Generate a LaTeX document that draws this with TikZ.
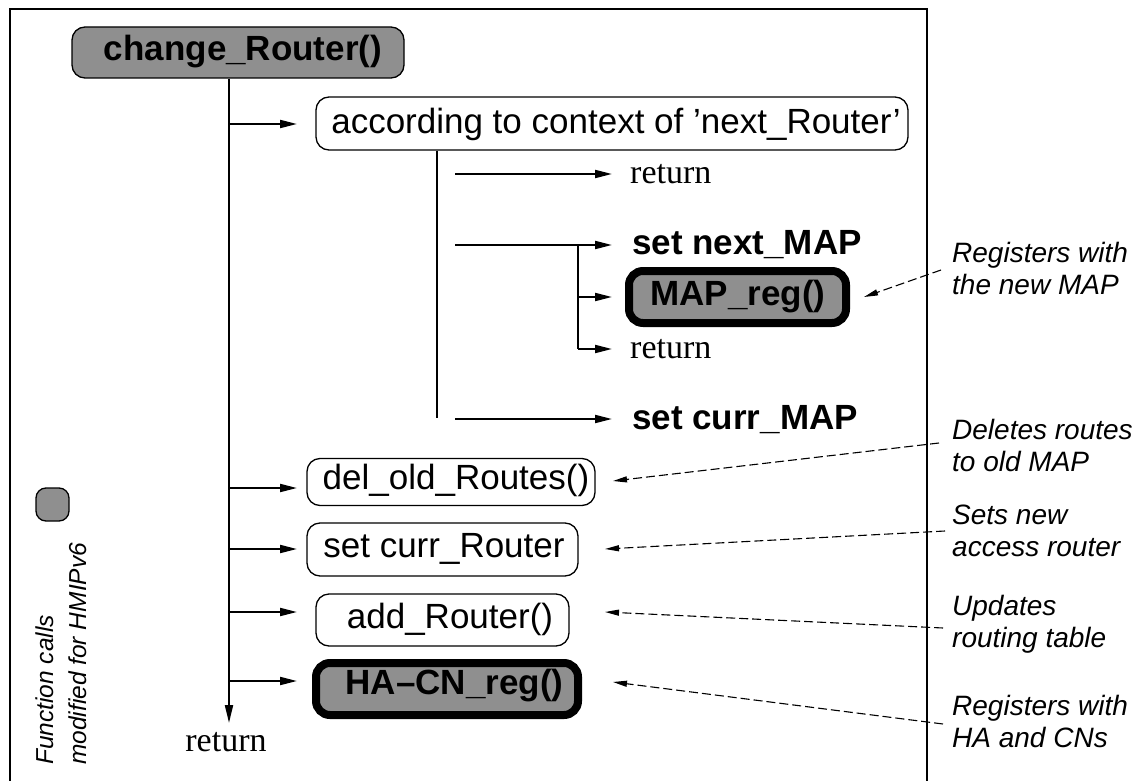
\documentclass[tikz,border=0pt]{standalone}
\usepackage{fontspec}
\setmainfont{Liberation Serif}
\setsansfont{Liberation Sans}
\usetikzlibrary{arrows.meta}
\definecolor{fn}{HTML}{8F8F8F}
\begin{document}
\begin{tikzpicture}[x=1pt,y=-1pt,
  line/.style={line width=2pt},
  arr/.style={line width=2pt,-{Triangle[length=17pt,width=8pt]}},
  note/.style={line width=1.1pt,dash pattern=on 9pt off 4pt,-{Triangle[length=14pt,width=6pt]}},
  box/.style={draw,line width=1.3pt,rounded corners=13pt,inner sep=0pt},
  thickbox/.style={draw,line width=8pt,rounded corners=14pt,fill=fn,inner sep=0pt},
  lbl/.style={font=\sffamily\fontsize{35}{40}\selectfont,inner sep=0pt},
  blbl/.style={font=\sffamily\bfseries\fontsize{35}{40}\selectfont,inner sep=0pt},
  ret/.style={font=\rmfamily\fontsize{34}{40}\selectfont,inner sep=0pt},
  ann/.style={font=\sffamily\itshape\fontsize{28}{32}\selectfont,align=left,inner sep=0pt,anchor=west}]
\useasboundingbox (0,0) rectangle (1137,781);
% frame
\draw[line width=1.8pt] (10,781) -- (10,9) -- (927,9) -- (927,781);

% boxes
\node[box,fill=fn,minimum width=332pt,minimum height=51pt] (chg) at (238,52.5) {};
\node[blbl] (chgT) at (243,52) {change\_Router()};
\node[box,minimum width=592pt,minimum height=53pt] (acc) at (612,123.5) {};
\node[lbl] (accT) at (616,124) {according to context of ’next\_Router’};
\node[box,minimum width=288pt,minimum height=47pt] (del) at (451,482) {};
\node[lbl] (delT) at (456,480) {del\_old\_Routes()};
\node[box,minimum width=271pt,minimum height=53pt] (scr) at (442.5,549.5) {};
\node[lbl] (scrT) at (444,549) {set curr\_Router};
\node[box,minimum width=253pt,minimum height=52pt] (add) at (442.5,620) {};
\node[lbl] (addT) at (450,619) {add\_Router()};
\node[thickbox,minimum width=262pt,minimum height=52pt] (hacn) at (447,689) {};
\node[blbl] (hacnT) at (454.5,686) {HA–CN\_reg()};
\node[thickbox,minimum width=217pt,minimum height=52pt] (mapreg) at (737.5,297) {};
\node[blbl] (mapregT) at (738,297) {MAP\_reg()};

% main trunk
\coordinate (trunkEnd) at (229,723);
\draw[arr,-{Triangle[length=18pt,width=8pt]}] (chg.south -| 229,0) -- (trunkEnd);
\node[ret] (ret0) at (226,742) {return};
\coordinate (b1) at (229,124); \coordinate (b1e) at (297,124);
\coordinate (b2) at (229,488); \coordinate (b2e) at (297,488);
\coordinate (b3) at (229,549); \coordinate (b3e) at (297,549);
\coordinate (b4) at (229,612); \coordinate (b4e) at (297,612);
\coordinate (b5) at (229,681); \coordinate (b5e) at (297,681);
\draw[arr] (b1) -- (b1e);
\draw[arr] (b2) -- (b2e);
\draw[arr] (b3) -- (b3e);
\draw[arr] (b4) -- (b4e);
\draw[arr] (b5) -- (b5e);

% inner branch
\coordinate (iEnd) at (437,418);
\draw[line] (acc.south -| 437,0) -- (iEnd);
\coordinate (c1) at (455,174); \coordinate (c1e) at (612,174);
\coordinate (c2) at (455,245); \coordinate (c2e) at (612,245);
\coordinate (c3) at (455,419); \coordinate (c3e) at (612,419);
\coordinate (s0) at (578,245);
\coordinate (s1) at (578,297); \coordinate (s1e) at (612,297);
\coordinate (s2) at (578,349); \coordinate (s2e) at (612,349);
\draw[arr] (c1) -- (c1e);
\draw[arr] (c2) -- (c2e);
\draw[arr] (c3) -- (c3e);
\draw[line] (s0) -- (s2);
\draw[arr] (s1) -- (s1e);
\draw[arr] (s2) -- (s2e);
\node[ret,anchor=west] (ret1) at (630,174) {return};
\node[blbl,anchor=west] (nmap) at (632,245) {set next\_MAP};
\node[ret,anchor=west] (ret2) at (630,349) {return};
\node[blbl,anchor=west] (cmap) at (632,420) {set curr\_MAP};

% legend
\node[draw,line width=1.3pt,fill=fn,rounded corners=10pt,minimum width=33pt,minimum height=33pt,inner sep=0pt] (leg) at (52.5,504.5) {};
\node[font=\sffamily\itshape\fontsize{24.5}{33}\selectfont,align=left,inner sep=0pt,rotate=90,anchor=south west] (legT) at (87,765) {Function calls\\modified for HMIPv6};

% annotations
\node[ann] (a1) at (952,268) {Registers with\\the new MAP};
\node[ann] (a2) at (952,445) {Deletes routes\\to old MAP};
\node[ann] (a3) at (952,531) {Sets new\\access router};
\node[ann] (a4) at (952,624) {Updates\\routing table};
\node[ann] (a5) at (952,721) {Registers with\\HA and CNs};
\coordinate (n1s) at (941,270); \coordinate (n1e) at (864,297);
\coordinate (n2s) at (939,443); \coordinate (n2e) at (613,481);
\coordinate (n3s) at (945,531); \coordinate (n3e) at (605,549);
\coordinate (n4s) at (943,628); \coordinate (n4e) at (605,612);
\coordinate (n5s) at (943,724); \coordinate (n5e) at (613,682);
\draw[note] (n1s) -- (n1e);
\draw[note] (n2s) -- (n2e);
\draw[note] (n3s) -- (n3e);
\draw[note] (n4s) -- (n4e);
\draw[note] (n5s) -- (n5e);
\end{tikzpicture}
\end{document}
